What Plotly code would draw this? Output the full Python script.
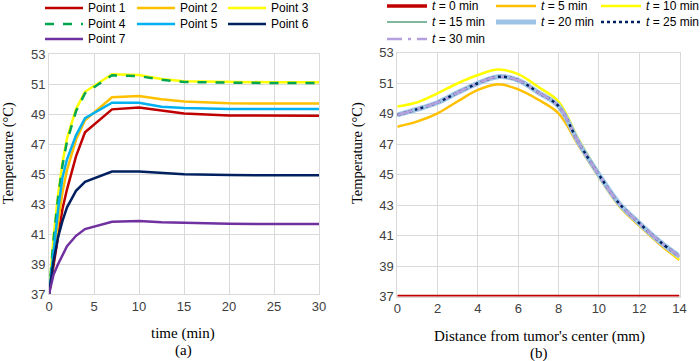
import plotly.graph_objects as go

# ---------------- data: panel (a) ----------------
time_min = [0, 0.5, 1, 1.5, 2, 3, 4, 7, 10, 12.5, 15, 20, 25, 30]
point1 = [37, 39.0, 41.0, 42.7, 44.0, 46.2, 47.8, 49.33, 49.45, 49.25, 49.05, 48.92, 48.9, 48.9]
point2 = [37, 39.5, 41.8, 43.8, 45.3, 47.3, 48.6, 50.13, 50.22, 50.0, 49.85, 49.73, 49.72, 49.72]
point3 = [37, 40.8, 43.6, 45.8, 47.4, 49.35, 50.5, 51.67, 51.62, 51.36, 51.2, 51.15, 51.13, 51.13]
point4 = [37, 40.6, 43.4, 45.6, 47.2, 49.2, 50.4, 51.6, 51.55, 51.3, 51.15, 51.1, 51.08, 51.08]
point5 = [37, 40.0, 42.6, 44.8, 46.0, 47.6, 48.75, 49.77, 49.77, 49.5, 49.42, 49.36, 49.35, 49.35]
point6 = [37, 39.2, 40.8, 41.9, 42.8, 43.9, 44.5, 45.18, 45.18, 45.1, 45.0, 44.95, 44.93, 44.93]
point7 = [37, 38.3, 39.0, 39.6, 40.2, 40.9, 41.35, 41.84, 41.88, 41.8, 41.75, 41.7, 41.69, 41.69]

# ---------------- data: panel (b) ----------------
distance_mm = [0, 1, 2, 3, 4, 5, 6, 7, 8, 9, 10, 11, 12, 13, 14]
t0 = [37] * 15
t5 = [48.15, 48.5, 49.03, 49.82, 50.56, 50.93, 50.6, 49.92, 49.03, 46.9, 44.85, 42.95, 41.65, 40.45, 39.4]
t10 = [49.47, 49.75, 50.34, 51.0, 51.54, 51.9, 51.6, 50.75, 49.8, 47.3, 45.1, 43.15, 41.75, 40.55, 39.45]
t15 = [48.9, 49.28, 49.73, 50.38, 51.0, 51.42, 51.2, 50.38, 49.5, 47.1, 45.0, 43.12, 41.8, 40.62, 39.62]
t20 = [48.92, 49.3, 49.74, 50.39, 51.0, 51.43, 51.2, 50.39, 49.5, 47.1, 45.0, 43.12, 41.82, 40.63, 39.63]
t25 = [48.92, 49.3, 49.74, 50.39, 51.0, 51.43, 51.2, 50.39, 49.5, 47.1, 45.0, 43.12, 41.82, 40.63, 39.63]
t30 = [48.92, 49.3, 49.74, 50.39, 51.0, 51.43, 51.2, 50.39, 49.5, 47.1, 45.0, 43.12, 41.82, 40.63, 39.63]

temp_ticks = [37, 39, 41, 43, 45, 47, 49, 51, 53]
time_ticks = [0, 5, 10, 15, 20, 25, 30]
dist_ticks = [0, 2, 4, 6, 8, 10, 12, 14]

W, H = 700, 361
fig = go.Figure()

left_series = [
    ("Point 1", point1, "#C00000", "solid", 2.5),
    ("Point 2", point2, "#FFC000", "solid", 2.5),
    ("Point 3", point3, "#FFFF00", "solid", 2.5),
    ("Point 4", point4, "#00A650", "dash", 2.5),
    ("Point 5", point5, "#00B0F0", "solid", 2.5),
    ("Point 6", point6, "#002060", "solid", 2.5),
    ("Point 7", point7, "#7030A0", "solid", 2.5),
]
right_series = [
    ("<i>t</i> = 0 min", t0, "#C00000", "solid", 3.5),
    ("<i>t</i> = 5 min", t5, "#FFC000", "solid", 2.5),
    ("<i>t</i> = 10 min", t10, "#FFFF00", "solid", 2.5),
    ("<i>t</i> = 15 min", t15, "#00703C", "solid", 1),
    ("<i>t</i> = 20 min", t20, "#9DC3E6", "solid", 5),
    ("<i>t</i> = 25 min", t25, "#002060", "dot", 2.5),
    ("<i>t</i> = 30 min", t30, "#B4A0DC", "longdashdot", 2.5),
]

for name, vals, col, dash, w in left_series:
    fig.add_trace(go.Scatter(x=time_min, y=vals, name=name, mode="lines",
                             line=dict(color=col, width=w, dash=dash),
                             xaxis="x", yaxis="y", showlegend=False))
for name, vals, col, dash, w in right_series:
    fig.add_trace(go.Scatter(x=distance_mm, y=vals, name=name, mode="lines",
                             line=dict(color=col, width=w, dash=dash, shape="spline", smoothing=1.0),
                             xaxis="x2", yaxis="y2", showlegend=False))

# ---- legend keys (3 columns per panel), laid out in pixels ----
lfont = dict(family="Liberation Sans", size=12, color="#000")
legend_specs = [
    (left_series, [45, 137, 228], [8, 24, 39], 38),
    (right_series, [387, 496, 601], [6, 22, 39], 40),
]
for series, cols, rows, keylen in legend_specs:
    for i, (name, _vals, col, dash, w) in enumerate(series):
        x0 = cols[i % 3]
        yy = rows[i // 3]
        fig.add_shape(type="line", xref="paper", yref="paper",
                      x0=x0 / W, x1=(x0 + keylen) / W, y0=1 - yy / H, y1=1 - yy / H,
                      line=dict(color=col, width=w, dash=dash))
        fig.add_annotation(text=name, xref="paper", yref="paper", x=(x0 + keylen + 3) / W, y=1 - yy / H,
                           xanchor="left", yanchor="middle", showarrow=False, font=lfont)

tickfont = dict(family="Liberation Sans", size=13, color="#404040")
grid = "#D9D9D9"
ax_common = dict(showgrid=True, gridcolor=grid, gridwidth=1, zeroline=False,
                 showline=True, linecolor=grid, linewidth=1, mirror=True,
                 ticks="", tickfont=tickfont)

fig.update_layout(
    width=W, height=H,
    margin=dict(l=0, r=0, t=0, b=0, autoexpand=False),
    paper_bgcolor="white", plot_bgcolor="white",
    showlegend=False,
    xaxis=dict(domain=[49 / W, 319 / W], range=[0, 30], tickvals=time_ticks, anchor="y", **ax_common),
    yaxis=dict(domain=[1 - 294.3 / H, 1 - 54.3 / H], range=[37, 53], tickvals=temp_ticks, anchor="x", **ax_common),
    xaxis2=dict(domain=[397.3 / W, 679.5 / W], range=[0, 14], tickvals=dist_ticks, anchor="y2", **ax_common),
    yaxis2=dict(domain=[1 - 296.5 / H, 1 - 52.8 / H], range=[37, 53], tickvals=temp_ticks, anchor="x2", **ax_common),
)

serif_x = dict(family="Liberation Serif", size=15, color="#000")
serif_y = dict(family="Liberation Serif", size=14.5, color="#000")
annots = [
    dict(text="time (min)", x=183 / W, y=1 - 333 / H),
    dict(text="(a)", x=183 / W, y=1 - 350 / H),
    dict(text="Distance from tumor's center (mm)", x=539 / W, y=1 - 336 / H),
    dict(text="(b)", x=539 / W, y=1 - 353 / H),
]
for a in annots:
    fig.add_annotation(xref="paper", yref="paper", showarrow=False, font=serif_x,
                       xanchor="center", yanchor="middle", **a)
fig.add_annotation(text="Temperature (°C)", xref="paper", yref="paper", x=9 / W, y=1 - 153 / H,
                   textangle=-90, showarrow=False, font=serif_y, xanchor="center", yanchor="middle")
fig.add_annotation(text="Temperature (°C)", xref="paper", yref="paper", x=358 / W, y=1 - 153 / H,
                   textangle=-90, showarrow=False, font=serif_y, xanchor="center", yanchor="middle")

fig.write_html("out.html", config={"displayModeBar": False},
               post_script="document.body.style.margin='0';document.body.style.overflow='hidden';")
